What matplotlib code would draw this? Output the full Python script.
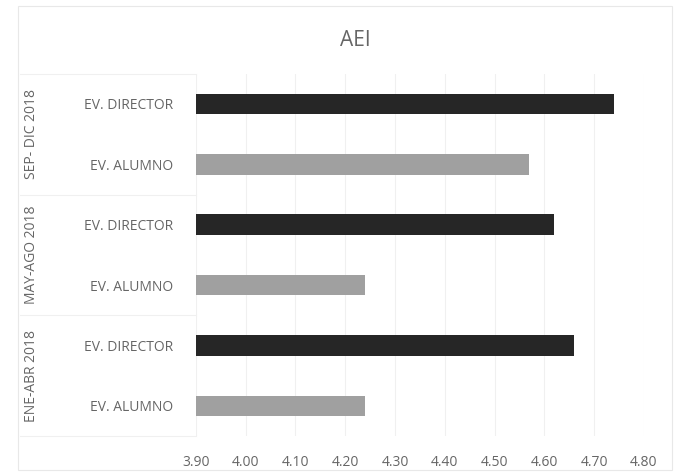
import numpy as np
import matplotlib
matplotlib.use('Agg')
import matplotlib.pyplot as plt
import matplotlib.transforms as mtransforms
from matplotlib.patches import Rectangle

plt.rcParams['font.family'] = ['Open Sans', 'DejaVu Sans']

# data (bottom to top)
groups = ['ENE-ABR 2018', 'MAY-AGO 2018', 'SEP- DIC 2018']
bar_labels = ['EV. ALUMNO', 'EV. DIRECTOR'] * 3
values = [4.24, 4.66, 4.24, 4.62, 4.57, 4.74]
xticks = [3.90, 4.00, 4.10, 4.20, 4.30, 4.40, 4.50, 4.60, 4.70, 4.80]

text_col = '#666666'
bar_cols = ['#a0a0a0', '#262626'] * 3

fig = plt.figure(figsize=(6.8, 4.76), dpi=100)
ax = fig.add_axes([0.288, 0.084, 0.659, 0.761])

y = np.arange(len(values))
base = xticks[0]
ax.barh(y, np.array(values) - base, left=base, height=0.34, color=bar_cols)

ax.set_xlim(xticks[0], xticks[-1])
ax.set_ylim(-0.5, len(values) - 0.5)
ax.set_xticks(xticks)
ax.set_xticklabels([f'{t:.2f}' for t in xticks], color=text_col, fontsize=10)
ax.set_yticks(y)
ax.set_yticklabels(bar_labels, color=text_col, fontsize=10)
ax.tick_params(axis='both', length=0, pad=14)
ax.tick_params(axis='y', pad=16)
ax.grid(axis='x', color='#f0f0f0', linewidth=0.8)
ax.set_axisbelow(True)
for s in ax.spines.values():
    s.set_visible(False)

# group labels and separators
trans = mtransforms.blended_transform_factory(fig.transFigure, ax.transData)
for i, g in enumerate(groups):
    ax.text(0.047, 2 * i + 0.5, g, transform=trans, rotation=90,
            ha='center', va='center', color=text_col, fontsize=10)
for yy in [-0.5, 1.5, 3.5, 5.5]:
    ax.plot([0.03, 0.288], [yy, yy], transform=trans, color='#f0f0f0',
            linewidth=0.8, clip_on=False)

fig.text(0.522, 0.915, 'AEI', ha='center', va='center', color=text_col, fontsize=15)

fig.patches.append(Rectangle((0.026, 0.012), 0.962, 0.976, transform=fig.transFigure,
                             fill=False, edgecolor='#e8e8e8', linewidth=0.8))

plt.savefig('out.png', dpi=100)
plt.close()
